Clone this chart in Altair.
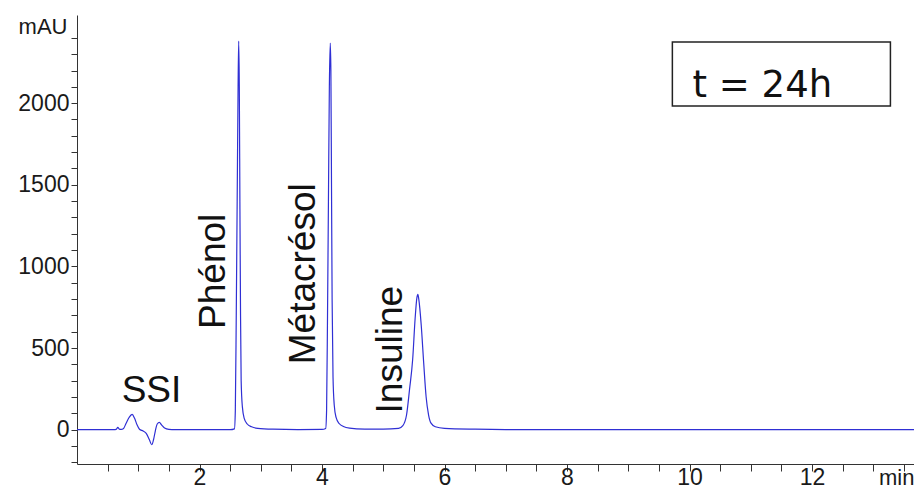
import altair as alt
import pandas as pd

# Chromatogram trace: retention time (min) and signal (mAU)
time_min = [
    0.00, 0.60, 0.64, 0.667, 0.69, 0.72, 0.76, 0.80, 0.85, 0.90, 0.94, 0.98,
    1.02, 1.08, 1.13, 1.18, 1.22, 1.25, 1.28, 1.31, 1.345, 1.38, 1.43, 1.50,
    1.60, 2.50, 2.57, 2.585, 2.60, 2.615, 2.63, 2.64, 2.65, 2.66, 2.67, 2.68,
    2.70, 2.73, 2.78, 2.85, 2.95, 3.20, 3.60, 4.00, 4.06, 4.075, 4.09, 4.105,
    4.12, 4.135, 4.145, 4.155, 4.165, 4.18, 4.20, 4.23, 4.28, 4.35, 4.45, 4.70,
    5.00, 5.25, 5.32, 5.38, 5.43, 5.48, 5.52, 5.55, 5.565, 5.58, 5.62, 5.66,
    5.70, 5.74, 5.78, 5.85, 6.00, 6.50, 7.00, 13.70,
]
signal_mau = [
    0, 0, 2, 14, 4, 2, 8, 38, 75, 94, 70, 30,
    3, -8, -22, -60, -92, -60, -5, 35, 45, 30, 10, 2,
    0, 0, 5, 120, 700, 1400, 2100, 2380, 2100, 1350, 700, 300,
    140, 70, 35, 18, 8, 3, 1, 2, 8, 120, 700, 1400,
    2100, 2368, 2200, 1500, 800, 320, 150, 75, 38, 20, 10, 4,
    3, 8, 25, 90, 250, 430, 680, 810, 829, 800, 640, 410,
    200, 90, 40, 18, 8, 3, 1, 0,
]

# Peak labels (name, retention time anchor, signal anchor, rotation)
peak_names = ["SSI", "Phénol", "Métacrésol", "Insuline"]
peak_label_t = [1.216, 2.41, 3.88, 5.31]
peak_label_v = [171, 970, 955, 490]
peak_label_angle = [0, 270, 270, 270]

# Time box annotation
box_text = ["t = 24h"]
box_t = [9.72]
box_t2 = [13.28]
box_v = [2375]
box_v2 = [1983]
box_text_t = [10.05]
box_text_v = [2038]

# Axis ticks
x_ticks = [0.5, 1.0, 1.5, 2.0, 2.5, 3.0, 3.5, 4.0, 4.5, 5.0, 5.5, 6.0, 6.5,
           7.0, 7.5, 8.0, 8.5, 9.0, 9.5, 10.0, 10.5, 11.0, 11.5, 12.0, 12.5,
           13.0, 13.5]
y_ticks = [-200, -100, 0, 100, 200, 300, 400, 500, 600, 700, 800, 900, 1000,
           1100, 1200, 1300, 1400, 1500, 1600, 1700, 1800, 1900, 2000, 2100,
           2200, 2300, 2400]

trace = pd.DataFrame({"t": time_min, "mAU": signal_mau})
labels = pd.DataFrame({"name": peak_names, "t": peak_label_t,
                       "v": peak_label_v, "angle": peak_label_angle})
box = pd.DataFrame({"txt": box_text, "t": box_t, "t2": box_t2,
                    "v": box_v, "v2": box_v2, "tt": box_text_t, "tv": box_text_v})

AXIS_FONT = "Liberation Sans"
PLOT_W = 837
PLOT_H = 449

x_scale = alt.Scale(domain=[0, 13.665], nice=False, zero=False)
y_scale = alt.Scale(domain=[-210, 2540], nice=False, zero=False)

x_axis = alt.Axis(
    values=x_ticks, tickCount=200,
    labelExpr="(datum.value % 2 == 0 && datum.value > 0) ? format(datum.value, 'd') : ''",
    tickSize=7, tickColor="#333333", domainColor="#333333", tickWidth=1,
    labelFont=AXIS_FONT, labelFontSize=23, labelColor="#1a1a1a",
    labelBaseline="alphabetic", labelPadding=13,
    grid=False, title="min", titleFont=AXIS_FONT, titleFontSize=22,
    titleFontWeight="normal", titleColor="#1a1a1a", titleAngle=0,
    titleAlign="right", titleBaseline="alphabetic", titleX=PLOT_W, titleY=20,
    labelFlush=False, labelOverlap=False,
)
y_axis = alt.Axis(
    values=y_ticks, tickCount=200,
    labelExpr="(datum.value % 500 == 0 && datum.value >= 0) ? format(datum.value, 'd') : ''",
    tickSize=6, tickColor="#333333", domainColor="#333333", tickWidth=1,
    labelFont=AXIS_FONT, labelFontSize=23, labelColor="#1a1a1a", labelPadding=2,
    grid=False, title="mAU", titleFont=AXIS_FONT, titleFontSize=22,
    titleFontWeight="normal", titleColor="#1a1a1a", titleAngle=0,
    titleAlign="right", titleBaseline="alphabetic", titleX=-10, titleY=18,
    labelFlush=False, labelOverlap=False,
)

line = alt.Chart(trace).mark_line(
    color="#2f2fd4", strokeWidth=1.2, interpolate="monotone", clip=True
).encode(
    x=alt.X("t:Q", scale=x_scale, axis=x_axis),
    y=alt.Y("mAU:Q", scale=y_scale, axis=y_axis),
)

label_marks = alt.Chart(labels).mark_text(
    font="Liberation Sans", fontSize=37, color="#111111",
    align="center", baseline="alphabetic",
).encode(
    x=alt.X("t:Q", scale=x_scale),
    y=alt.Y("v:Q", scale=y_scale),
    text="name:N",
    angle=alt.Angle("angle:Q", scale=None),
)

box_rect = alt.Chart(box).mark_rect(
    fill="white", stroke="#222222", strokeWidth=1.5
).encode(
    x=alt.X("t:Q", scale=x_scale), x2="t2:Q",
    y=alt.Y("v:Q", scale=y_scale), y2="v2:Q",
)

box_label = alt.Chart(box).mark_text(
    font="DejaVu Sans", fontSize=37, color="#111111",
    align="left", baseline="alphabetic",
).encode(
    x=alt.X("tt:Q", scale=x_scale),
    y=alt.Y("tv:Q", scale=y_scale),
    text="txt:N",
)

chart = alt.layer(line, label_marks, box_rect, box_label).properties(
    width=PLOT_W, height=PLOT_H,
    autosize=alt.AutoSizeParams(type="none"),
    padding={"left": 69, "top": 7, "right": 0, "bottom": 25},
    background="white",
).configure_view(stroke=None)

chart.save("out.html", embed_options={"renderer": "svg", "actions": False})
